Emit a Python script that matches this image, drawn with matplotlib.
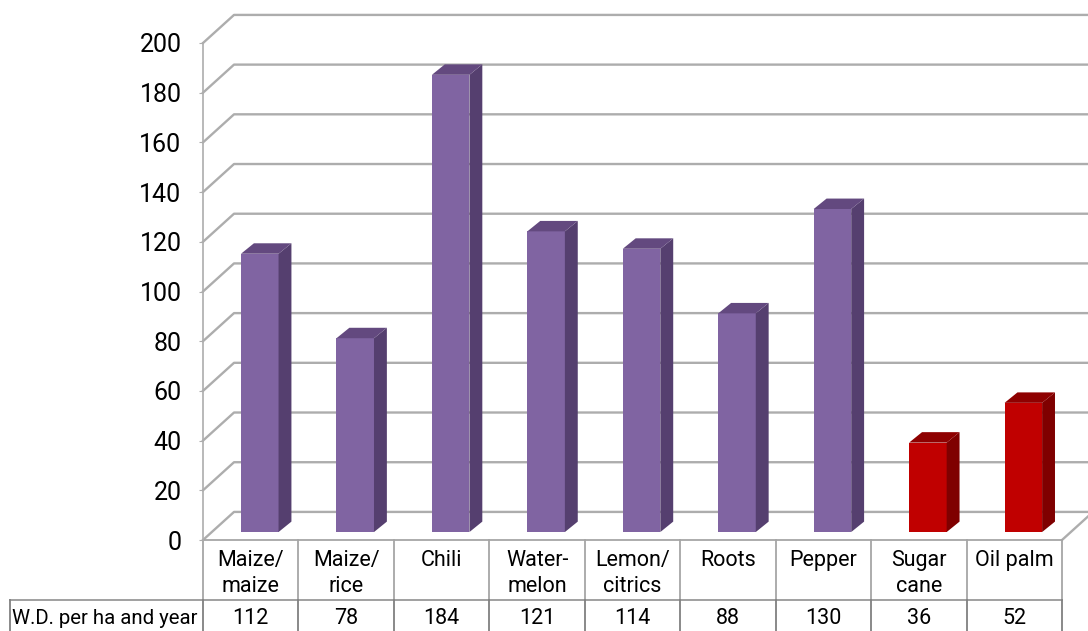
import matplotlib.pyplot as plt
import numpy as np

plt.rcParams['font.family'] = ['Roboto', 'Noto Sans', 'DejaVu Sans']

categories = ['Maize/\nmaize', 'Maize/\nrice', 'Chili', 'Water-\nmelon', 'Lemon/\ncitrics',
              'Roots', 'Pepper', 'Sugar\ncane', 'Oil palm']
values = [112, 78, 184, 121, 114, 88, 130, 36, 52]
row_label = 'W.D. per ha and year'
y_ticks = list(range(0, 201, 20))

purple = ('#8064A2', '#553F6F', '#63497F')
red = ('#C00000', '#7F0000', '#8E0000')
bar_colors = [purple] * 7 + [red] * 2
grid_color = '#ADADAD'

# fake 3d offsets, in data units
wall_dx, wall_dy = 0.325, 11.3
bar_dx, bar_dy = 0.135, 4.2
bar_w = 0.393
shift = 0.095
base = 3.2

fig = plt.figure(figsize=(10.88, 6.31), dpi=100)
ax = fig.add_axes([203 / 1088, 91 / 631, 859 / 1088, 497 / 631])
ax.set_xlim(0, 9)
ax.set_ylim(0, 200)

# walls and floor
for t in y_ticks:
    ax.plot([0, wall_dx, 9 + wall_dx], [t, t + wall_dy, t + wall_dy], color=grid_color,
            lw=1.7, clip_on=False, zorder=1)
ax.plot([9, 9 + wall_dx], [0, wall_dy], color=grid_color, lw=1.7, clip_on=False, zorder=1)

# bars
for i, (v, c) in enumerate(zip(values, bar_colors)):
    x0 = i + 0.5 - bar_w / 2 + shift
    x1 = x0 + bar_w
    top = base + v
    ax.bar(x0, v, bar_w, bottom=base, align='edge', color=c[0], zorder=3)
    ax.fill([x1, x1 + bar_dx, x1 + bar_dx, x1], [base, base + bar_dy, top + bar_dy, top],
            color=c[1], lw=0, zorder=3)
    ax.fill([x0, x0 + bar_dx, x1 + bar_dx, x1], [top, top + bar_dy, top + bar_dy, top],
            color=c[2], lw=0, zorder=3)

for s in ['top', 'right', 'bottom']:
    ax.spines[s].set_visible(False)
ax.spines['left'].set_color(grid_color)
ax.spines['left'].set_linewidth(1.2)
ax.set_yticks(y_ticks)
ax.tick_params(axis='y', length=3, color=grid_color, labelsize=18, pad=12.5)
ax.set_xticks([])
ax.patch.set_alpha(0)

# data table under the chart
row1, row2 = -24, -40
label_left = -193 / (859 / 9)
ax.plot([0, 9], [0, 0], color='#A6A6A6', lw=1.3, clip_on=False, zorder=2)
ax.plot([label_left, 9], [row1, row1], color='#999999', lw=1.3, clip_on=False, zorder=2)
ax.plot([label_left, label_left], [row1, row2], color='#808080', lw=1.3, clip_on=False)
for k in range(10):
    ax.plot([k, k], [0, row1], color='#A6A6A6', lw=1.3, clip_on=False, zorder=2)
    ax.plot([k, k], [row1, row2], color='#808080', lw=1.3, clip_on=False, zorder=2)
for i, (name, v) in enumerate(zip(categories, values)):
    ax.text(i + 0.5, -4.2, name, ha='center', va='top', fontsize=15.5, linespacing=1.3,
            clip_on=False)
    ax.text(i + 0.5, -31.6, str(v), ha='center', va='center', fontsize=15.5, clip_on=False)
ax.text(label_left + 0.02, -31.6, row_label, ha='left', va='center', fontsize=14.7, clip_on=False)

fig.savefig('out.png', dpi=100)
